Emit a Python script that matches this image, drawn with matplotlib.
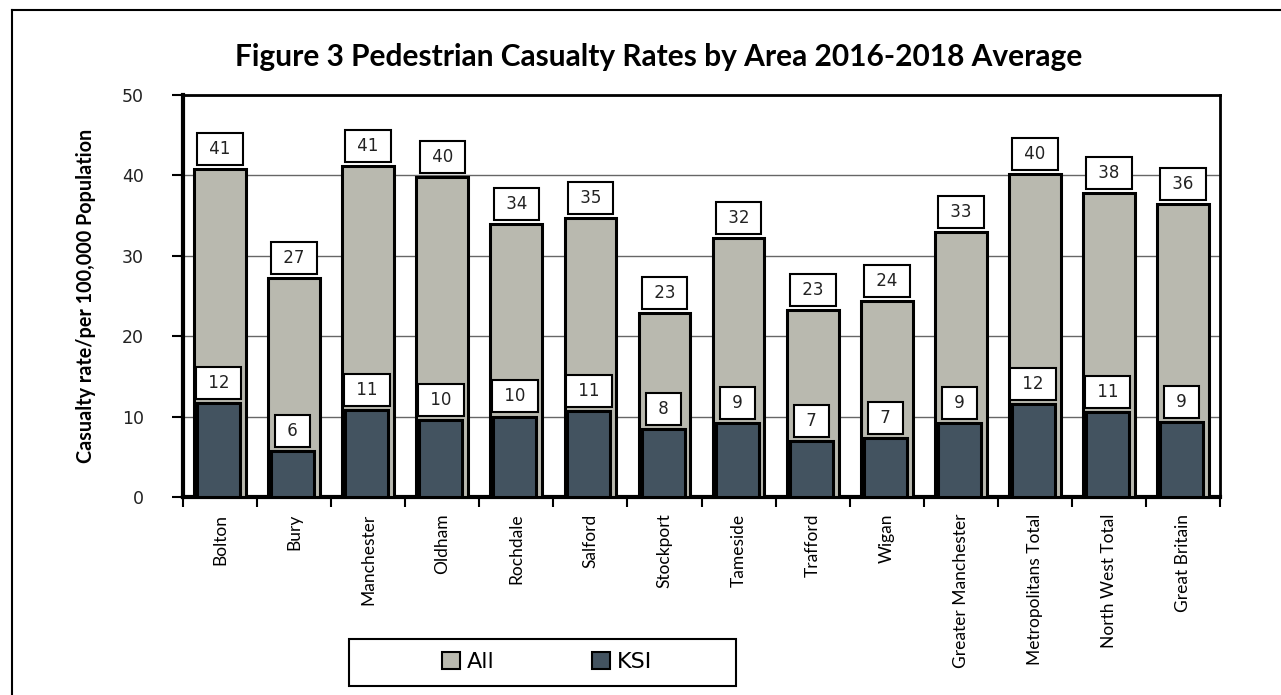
import matplotlib
matplotlib.use('Agg')
import matplotlib.pyplot as plt
from matplotlib.lines import Line2D
from matplotlib.patches import Patch, Rectangle
import numpy as np

# data
areas = ["Bolton", "Bury", "Manchester", "Oldham", "Rochdale", "Salford", "Stockport",
         "Tameside", "Trafford", "Wigan", "Greater Manchester", "Metropolitans Total",
         "North West Total", "Great Britain"]
all_rate = [40.8, 27.2, 41.2, 39.8, 34.0, 34.7, 22.9, 32.2, 23.3, 24.4, 32.9, 40.2, 37.8, 36.4]
ksi_rate = [11.7, 5.7, 10.8, 9.6, 10.0, 10.7, 8.4, 9.2, 7.0, 7.3, 9.2, 11.6, 10.6, 9.3]
all_labels = ["41", "27", "41", "40", "34", "35", "23", "32", "23", "24", "33", "40", "38", "36"]
ksi_labels = ["12", "6", "11", "10", "10", "11", "8", "9", "7", "7", "9", "12", "11", "9"]

narrow = "Lato"
col_all = "#b9b9af"
col_ksi = "#435360"

fig = plt.figure(figsize=(12.81, 6.95), dpi=100)
ax = fig.add_axes([0.1429, 0.2849, 0.8095, 0.5784])

x = np.arange(len(areas))
ax.bar(x, all_rate, width=0.70, color=col_all, edgecolor="black", linewidth=2.2, zorder=3)
ax.bar(x - 0.02, ksi_rate, width=0.58, color=col_ksi, edgecolor="black", linewidth=2.2, zorder=4)

box = dict(boxstyle="square,pad=0.42", facecolor="white", edgecolor="black", linewidth=1.5)
for i in range(len(areas)):
    ax.annotate(" " + all_labels[i] + " ", (x[i], all_rate[i]), xytext=(0, 8),
                textcoords="offset points", ha="center", va="bottom", fontsize=12,
                bbox=box, zorder=6, color="#222222")
    ax.annotate(" " + ksi_labels[i] + " ", (x[i] - 0.02, ksi_rate[i]), xytext=(0, 8),
                textcoords="offset points", ha="center", va="bottom", fontsize=12,
                bbox=box, zorder=6, color="#222222")

ax.set_xlim(-0.5, len(areas) - 0.5)
ax.set_ylim(0, 50)
ax.set_yticks([0, 10, 20, 30, 40, 50])
ax.tick_params(axis="y", labelsize=12.5, length=8, width=1.5, direction="out", pad=20)
ax.set_yticklabels(["0", "10", "20", "30", "40", "50"], color="#222222")
ax.set_xticks(x)
ax.set_xticklabels(areas, rotation=90, fontsize=12.5, family=narrow)
ax.tick_params(axis="x", length=0, pad=12)
ax.set_xticks(np.arange(-0.5, len(areas)), minor=True)
ax.tick_params(axis="x", which="minor", length=7, width=1.5, direction="out")

ax.yaxis.grid(True, color="#666666", linewidth=1.0, zorder=0)
ax.set_axisbelow(True)
for s in ["left", "bottom"]:
    ax.spines[s].set_linewidth(3)
for s in ["top", "right"]:
    ax.spines[s].set_linewidth(2)

ax.set_ylabel("Casualty rate/per 100,000 Population", fontsize=14.2, family=narrow,
              fontweight="bold", labelpad=19)

fig.text(0.5145, 0.918, "Figure 3 Pedestrian Casualty Rates by Area 2016-2018 Average",
         ha="center", va="center", fontsize=21.5, fontweight="bold", family=narrow)

handles = [Patch(facecolor=col_all, edgecolor="black", linewidth=1.5, label="All"),
           Patch(facecolor=col_ksi, edgecolor="black", linewidth=1.5, label="KSI")]
leg = fig.legend(handles=handles, loc="center", bbox_to_anchor=(0.427, 0.0475),
                 ncol=2, frameon=False, fontsize=16, handlelength=0.8,
                 handleheight=0.8, handletextpad=0.3, columnspacing=4.4)
fig.add_artist(Rectangle((349 / 1281, 1 - 686 / 695), 387 / 1281, 47 / 695,
                         transform=fig.transFigure, fill=False, edgecolor="black", linewidth=1.5))

# outer border lines
fig.add_artist(Line2D([0.0094, 1.0], [0.986, 0.986], color="black", linewidth=1.5,
                      transform=fig.transFigure))
fig.add_artist(Line2D([0.0094, 0.0094], [0.0, 0.986], color="black", linewidth=1.5,
                      transform=fig.transFigure))

plt.savefig("out.png", dpi=100)
plt.close()
